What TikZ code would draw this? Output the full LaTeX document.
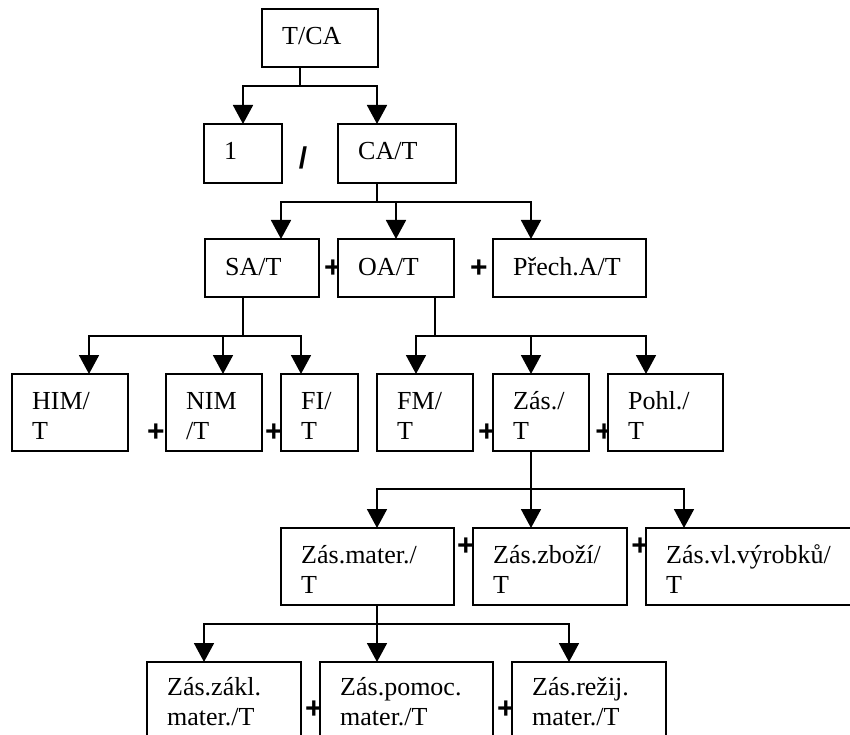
\documentclass[tikz,border=0pt]{standalone}
\usepackage{fontspec}
\setmainfont{Liberation Serif}
\newfontfamily\opfont{Liberation Sans}
\usetikzlibrary{arrows.meta}
% two-line label whose baseline is the baseline of its first line
\newcommand{\twoline}[2]{\begin{tabular}[t]{@{}l@{}}#1\\#2\end{tabular}}

\begin{document}
\begin{tikzpicture}[x=1pt,y=-1pt,
  box/.style={draw, fill=white, line width=1.8pt, inner sep=0pt, outer sep=0pt, anchor=north west},
  lbl/.style={anchor=base west, inner sep=0pt, font=\fontsize{26}{30}\selectfont},
  op/.style={inner sep=0pt, font=\opfont\bfseries\fontsize{30}{30}\selectfont},
  ln/.style={line width=1.8pt},
  arr/.style={ln, -{Triangle[width=20pt,length=19pt]}}]
\useasboundingbox (0,0) rectangle (850,735);
\clip (0,0) rectangle (850,735);

% operators between the boxes (boxes are drawn on top of them)
\node[op] (div) at (303,158) {/};
\node[op] (p31) at (333,269) {+};
\node[op] (p32) at (479,269) {+};
\node[op] (p41) at (156,433) {+};
\node[op] (p42) at (274,433) {+};
\node[op] (p43) at (487,433) {+};
\node[op] (p44) at (604,433) {+};
\node[op] (p51) at (466,547) {+};
\node[op] (p52) at (640,547) {+};
\node[op] (p61) at (314,710) {+};
\node[op] (p62) at (506,710) {+};

% boxes
\node[box, minimum width=116pt, minimum height=58pt] (tca) at (262,9) {};
\node[box, minimum width=78pt, minimum height=59pt] (one) at (204,124) {};
\node[box, minimum width=118pt, minimum height=59pt] (cat) at (338,124) {};
\node[box, minimum width=114pt, minimum height=58pt] (sat) at (205,239) {};
\node[box, minimum width=116pt, minimum height=58pt] (oat) at (338,239) {};
\node[box, minimum width=153pt, minimum height=58pt] (prech) at (493,239) {};
\node[box, minimum width=116pt, minimum height=77pt] (him) at (12,374) {};
\node[box, minimum width=96pt, minimum height=77pt] (nim) at (166,374) {};
\node[box, minimum width=77pt, minimum height=77pt] (fi) at (281,374) {};
\node[box, minimum width=96pt, minimum height=77pt] (fm) at (377,374) {};
\node[box, minimum width=96pt, minimum height=77pt] (zas) at (493,374) {};
\node[box, minimum width=115pt, minimum height=77pt] (pohl) at (608,374) {};
\node[box, minimum width=173pt, minimum height=77pt] (mater) at (281,528) {};
\node[box, minimum width=154pt, minimum height=77pt] (zbozi) at (473,528) {};
\node[box, minimum width=240pt, minimum height=77pt] (vyr) at (646,528) {};
\node[box, minimum width=154pt, minimum height=120pt] (zakl) at (147,662) {};
\node[box, minimum width=173pt, minimum height=120pt] (pomoc) at (320,662) {};
\node[box, minimum width=154pt, minimum height=120pt] (rezij) at (512,662) {};

% labels
\node[lbl] (tca-l) at ([shift={(20pt,-35.5pt)}]tca.north west) {T/CA};
\node[lbl] (one-l) at ([shift={(20pt,-35.5pt)}]one.north west) {1};
\node[lbl] (cat-l) at ([shift={(20pt,-35.5pt)}]cat.north west) {CA/T};
\node[lbl] (sat-l) at ([shift={(20pt,-36.5pt)}]sat.north west) {SA/T};
\node[lbl] (oat-l) at ([shift={(20pt,-36.5pt)}]oat.north west) {OA/T};
\node[lbl] (prech-l) at ([shift={(20pt,-36.5pt)}]prech.north west) {Přech.A/T};
\node[lbl] (him-l) at ([shift={(20pt,-35pt)}]him.north west) {\twoline{HIM/}{T}};
\node[lbl] (nim-l) at ([shift={(20pt,-35pt)}]nim.north west) {\twoline{NIM}{/T}};
\node[lbl] (fi-l) at ([shift={(20pt,-35pt)}]fi.north west) {\twoline{FI/}{T}};
\node[lbl] (fm-l) at ([shift={(20pt,-35pt)}]fm.north west) {\twoline{FM/}{T}};
\node[lbl] (zas-l) at ([shift={(20pt,-35pt)}]zas.north west) {\twoline{Zás./}{T}};
\node[lbl] (pohl-l) at ([shift={(20pt,-35pt)}]pohl.north west) {\twoline{Pohl./}{T}};
\node[lbl] (mater-l) at ([shift={(20pt,-35pt)}]mater.north west) {\twoline{Zás.mater./}{T}};
\node[lbl] (zbozi-l) at ([shift={(20pt,-35pt)}]zbozi.north west) {\twoline{Zás.zboží/}{T}};
\node[lbl] (vyr-l) at ([shift={(20pt,-35pt)}]vyr.north west) {\twoline{Zás.vl.výrobků/}{T}};
\node[lbl] (zakl-l) at ([shift={(20pt,-33pt)}]zakl.north west) {\twoline{Zás.zákl.}{mater./T}};
\node[lbl] (pomoc-l) at ([shift={(20pt,-33pt)}]pomoc.north west) {\twoline{Zás.pomoc.}{mater./T}};
\node[lbl] (rezij-l) at ([shift={(20pt,-33pt)}]rezij.north west) {\twoline{Zás.režij.}{mater./T}};

% T/CA -> 1, CA/T
\coordinate (j1) at ([xshift=-20pt]tca.south |- 0,86);
\draw[ln] (tca.south -| j1) -- (j1);
\draw[arr] (j1) -| (one.north);
\draw[arr] (j1) -| ([xshift=-20pt]cat.north);

% CA/T -> SA/T, OA/T, Přech.A/T
\coordinate (j2) at ([xshift=-20pt]cat.south |- 0,202);
\draw[ln] (cat.south -| j2) -- (j2);
\draw[arr] (j2) -| ([xshift=19pt]sat.north);
\draw[arr] (j2) -| (oat.north);
\draw[arr] (j2) -| ([xshift=-38.5pt]prech.north);

% SA/T -> HIM/T, NIM/T, FI/T
\coordinate (j3) at ([xshift=-19pt]sat.south |- 0,336);
\draw[ln] (sat.south -| j3) -- (j3);
\draw[arr] (j3) -| ([xshift=19pt]him.north);
\draw[arr] (j3) -| ([xshift=9pt]nim.north);
\draw[arr] (j3) -| ([xshift=-18.5pt]fi.north);

% OA/T -> FM/T, Zás./T, Pohl./T
\coordinate (j4) at ([xshift=39pt]oat.south |- 0,336);
\draw[ln] (oat.south -| j4) -- (j4);
\draw[arr] (j4) -| ([xshift=-9pt]fm.north);
\draw[arr] (j4) -| ([xshift=-10pt]zas.north);
\draw[arr] (j4) -| ([xshift=-19.5pt]pohl.north);

% Zás./T -> Zás.mater./T, Zás.zboží/T, Zás.vl.výrobků/T
\coordinate (j5) at ([xshift=-10pt]zas.south |- 0,489);
\draw[ln] (zas.south -| j5) -- (j5);
\draw[arr] (j5) -| ([xshift=9.5pt]mater.north);
\draw[arr] (j5) -- (j5 |- zbozi.north);
\draw[arr] (j5) -| ([shift={(38pt,0pt)}]vyr.north west);

% Zás.mater./T -> Zás.zákl., Zás.pomoc., Zás.režij.
\coordinate (j6) at ([xshift=9.5pt]mater.south |- 0,624);
\draw[ln] (mater.south -| j6) -- (j6);
\draw[arr] (j6) -| ([xshift=-20pt]zakl.north);
\draw[arr] (j6) -- (j6 |- pomoc.north);
\draw[arr] (j6) -| ([xshift=-20pt]rezij.north);
\end{tikzpicture}
\end{document}
